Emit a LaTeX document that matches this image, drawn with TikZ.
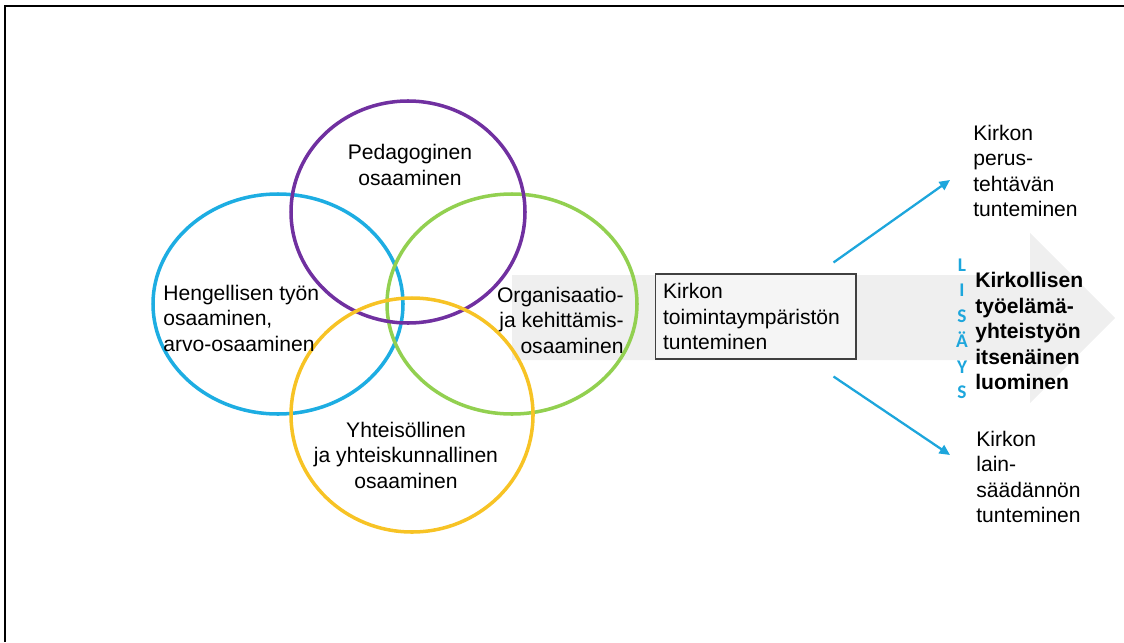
\documentclass[tikz,border=0pt]{standalone}
\usepackage{fontspec}
\setmainfont{Liberation Sans}
\newfontfamily\lisfont{Carlito}
\usetikzlibrary{arrows.meta}
\definecolor{circpurple}{HTML}{7030A0}
\definecolor{circblue}{HTML}{1DADE2}
\definecolor{circgreen}{HTML}{92D050}
\definecolor{circyellow}{HTML}{F7C325}
\definecolor{linkblue}{HTML}{1DA6DC}
\definecolor{bandgray}{HTML}{EFEFEF}
\tikzset{
  ring/.style={line width=2pt},
  label/.style={inner sep=0pt, font=\fontsize{12}{14.5}\selectfont},
  link/.style={draw=linkblue, line width=1.3pt, -{Triangle[length=6pt,width=5.5pt]}}
}
\begin{document}
\begin{tikzpicture}[x=0.02cm,y=-0.02cm]
\useasboundingbox (0,0) rectangle (1124,642);
\draw[line width=1.2pt] (5,642) -- (5,6) -- (1124,6);

\fill[bandgray] (512,275) -- (1030,275) -- (1030,233) -- (1115,318) -- (1030,403) -- (1030,360) -- (512,360) -- cycle;

\draw[ring,circblue] (278,304) ellipse [x radius=125, y radius=110];
\draw[ring,circgreen] (512,304) ellipse [x radius=125, y radius=110];
\draw[ring,circpurple] (408,212) ellipse [x radius=117, y radius=111];
\draw[ring,circyellow] (412,415) ellipse [x radius=121, y radius=117];

\node[label, align=center] (ped) at (410,165) {Pedagoginen\\osaaminen};
\node[label, align=left, anchor=west] (heng) at (163,318) {Hengellisen työn\\osaaminen,\\arvo-osaaminen};
\node[label, align=right, anchor=east] (org) at (624,320) {Organisaatio-\\ja kehittämis-\\osaaminen};
\node[label, align=center] (yht) at (406,455) {Yhteisöllinen\\ja yhteiskunnallinen\\osaaminen};

\node[label, draw=black!75, fill=bandgray!60, line width=0.6pt, minimum width=4.02cm, minimum height=1.7cm,
  text width=3.7cm, inner xsep=0.16cm, align=left] (box) at (755.5,316.5) {Kirkon\\toimintaympäristön\\tunteminen};

\node[label, align=left, anchor=west] (perus) at (973,171) {Kirkon\\perus-\\tehtävän\\tunteminen};
\node[label, align=left, anchor=west, font=\fontsize{12}{14.5}\selectfont\bfseries] (tyo) at (975,331) {Kirkollisen\\työelämä-\\yhteistyön\\itsenäinen\\luominen};
\node[label, align=left, anchor=west] (laki) at (976,477) {Kirkon\\lain-\\säädännön\\tunteminen};
\node[inner sep=0pt, align=center, text=linkblue, font=\lisfont\bfseries\fontsize{11}{14.5}\selectfont] (lis) at (962,329) {L\\I\\S\\Ä\\Y\\S};

\draw[link] ([shift={(-23,-11)}]box.north east) -- ([shift={(-23,9)}]perus.west);
\draw[link] ([shift={(-23,17)}]box.south east) -- ([shift={(-26,-22)}]laki.west);
\end{tikzpicture}
\end{document}
